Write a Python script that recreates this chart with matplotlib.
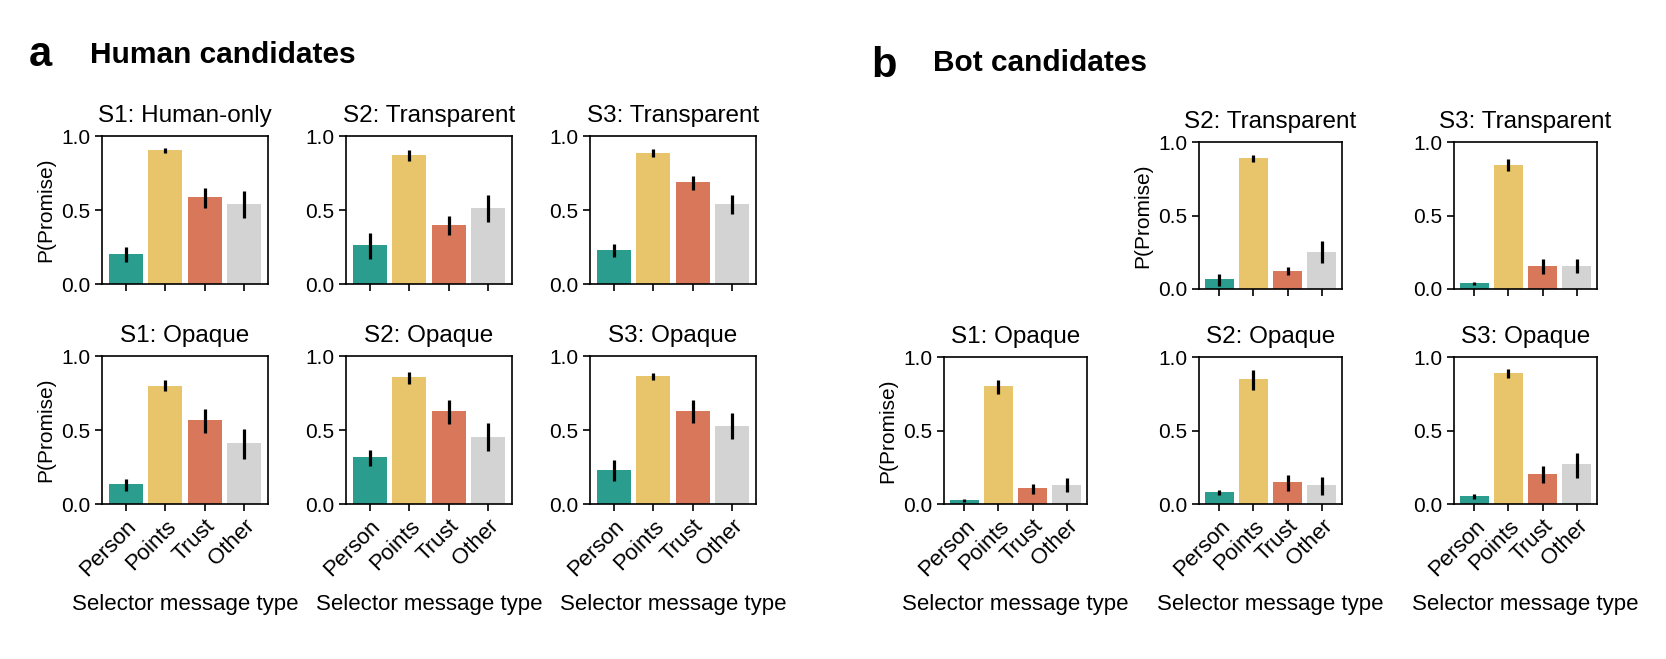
import matplotlib.pyplot as plt
import numpy as np

plt.rcParams['font.family'] = ['Liberation Sans', 'DejaVu Sans']

categories = ['Person', 'Points', 'Trust', 'Other']
colors = ['#2a9d8f', '#e8c46a', '#d9775a', '#d3d3d3']

# Human candidates: means and (low, high) of the error bars
human_titles = ['S1: Human-only', 'S2: Transparent', 'S3: Transparent',
                'S1: Opaque', 'S2: Opaque', 'S3: Opaque']
human_means = [
    [0.204, 0.908, 0.587, 0.543],
    [0.261, 0.871, 0.400, 0.513],
    [0.230, 0.888, 0.690, 0.542],
    [0.136, 0.800, 0.567, 0.413],
    [0.318, 0.856, 0.627, 0.456],
    [0.231, 0.864, 0.627, 0.529],
]
human_low = [
    [0.152, 0.888, 0.511, 0.444],
    [0.172, 0.830, 0.328, 0.420],
    [0.183, 0.855, 0.638, 0.471],
    [0.091, 0.762, 0.478, 0.302],
    [0.258, 0.813, 0.538, 0.358],
    [0.158, 0.836, 0.549, 0.436],
]
human_high = [
    [0.253, 0.919, 0.650, 0.626],
    [0.342, 0.904, 0.458, 0.598],
    [0.272, 0.915, 0.732, 0.603],
    [0.169, 0.840, 0.642, 0.509],
    [0.364, 0.889, 0.702, 0.547],
    [0.300, 0.882, 0.702, 0.616],
]

# Bot candidates (no S1 transparent condition)
bot_titles = ['S2: Transparent', 'S3: Transparent',
              'S1: Opaque', 'S2: Opaque', 'S3: Opaque']
bot_means = [
    [0.070, 0.891, 0.123, 0.254],
    [0.041, 0.843, 0.159, 0.159],
    [0.026, 0.800, 0.108, 0.132],
    [0.079, 0.853, 0.147, 0.127],
    [0.056, 0.889, 0.205, 0.271],
]
bot_low = [
    [0.019, 0.862, 0.092, 0.179],
    [0.025, 0.802, 0.105, 0.107],
    [0.012, 0.748, 0.067, 0.084],
    [0.058, 0.776, 0.091, 0.063],
    [0.034, 0.856, 0.144, 0.180],
]
bot_high = [
    [0.104, 0.910, 0.150, 0.329],
    [0.050, 0.882, 0.207, 0.205],
    [0.036, 0.841, 0.139, 0.180],
    [0.096, 0.909, 0.200, 0.183],
    [0.070, 0.916, 0.260, 0.350],
]

W, H = 1666, 659
fig = plt.figure(figsize=(W / 100, H / 100), dpi=100)


def px_axes(left, top, width, height):
    return fig.add_axes([left / W, 1 - (top + height) / H, width / W, height / H])


def draw_bars(ax, title, means, low, high, ylabel=False, xlabels=False):
    x = np.arange(len(categories))
    means = np.array(means)
    yerr = np.vstack([means - np.array(low), np.array(high) - means])
    ax.bar(x, means, width=0.85, color=colors)
    ax.errorbar(x, means, yerr=yerr, fmt='none', ecolor='black', elinewidth=2.3, capsize=0)
    ax.set_xlim(-0.6, 3.6)
    ax.set_ylim(0, 1)
    ax.set_yticks([0, 0.5, 1.0])
    ax.set_xticks(x)
    ax.set_title(title, fontsize=17.5, pad=10)
    ax.tick_params(labelsize=15, length=5, width=1.2)
    for s in ax.spines.values():
        s.set_linewidth(1.2)
    if ylabel:
        ax.set_ylabel('P(Promise)', fontsize=15)
    if xlabels:
        ax.set_xticklabels(categories, rotation=45, ha='right', rotation_mode='anchor', fontsize=16)
        ax.set_xlabel('Selector message type', fontsize=16, labelpad=10)
    else:
        ax.set_xticklabels([])


# panel a
a_lefts = [102, 346, 590]
a_tops = [136, 356]
for i in range(6):
    r, c = divmod(i, 3)
    ax = px_axes(a_lefts[c], a_tops[r], 166, 148)
    draw_bars(ax, human_titles[i], human_means[i], human_low[i], human_high[i],
              ylabel=(c == 0), xlabels=(r == 1))

# panel b
b_lefts = [944, 1199, 1454]
b_slots = [(0, 1), (0, 2), (1, 0), (1, 1), (1, 2)]
b_tops = [142, 357]
for i, (r, c) in enumerate(b_slots):
    ax = px_axes(b_lefts[c], b_tops[r], 143, 147)
    draw_bars(ax, bot_titles[i], bot_means[i], bot_low[i], bot_high[i],
              ylabel=(i in (0, 2)), xlabels=(r == 1))

fig.text(29 / W, 1 - 66 / H, 'a', fontsize=30, fontweight='bold', va='baseline')
fig.text(90 / W, 1 - 63 / H, 'Human candidates', fontsize=21.5, fontweight='bold', va='baseline')
fig.text(871 / W, 1 - 77 / H, 'b', fontsize=30, fontweight='bold', va='baseline')
fig.text(933 / W, 1 - 71 / H, 'Bot candidates', fontsize=21.5, fontweight='bold', va='baseline')

fig.savefig('out.png', dpi=100)
